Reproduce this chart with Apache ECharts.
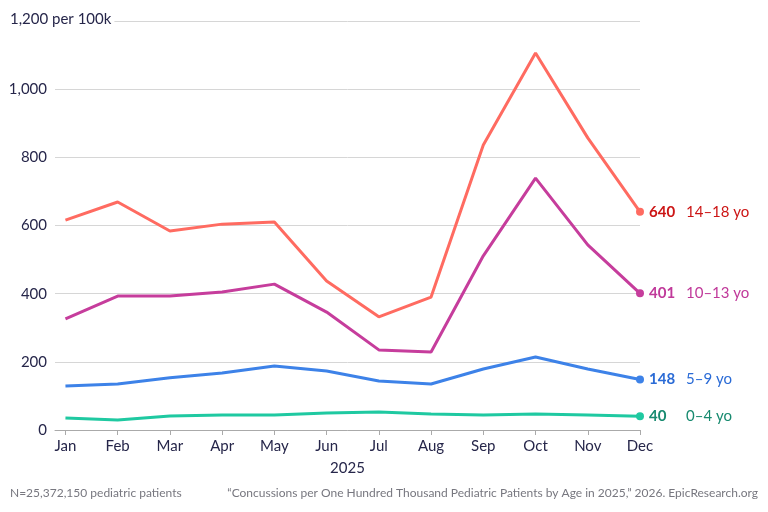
<!DOCTYPE html>
<html>
<head>
<meta charset="utf-8">
<script src="https://cdn.jsdelivr.net/npm/echarts@6/dist/echarts.min.js"></script>
<style>
  html, body { margin: 0; padding: 0; background: #fff; }
  #chart { width: 768px; height: 512px; }
</style>
</head>
<body>
<div id="chart"></div>
<script>
// data
var months = ['Jan', 'Feb', 'Mar', 'Apr', 'May', 'Jun', 'Jul', 'Aug', 'Sep', 'Oct', 'Nov', 'Dec'];
var age14to18 = [616, 669, 584, 604, 610, 437, 332, 390, 836, 1106, 857, 640];
var age10to13 = [326, 393, 393, 405, 428, 346, 235, 229, 511, 739, 543, 401];
var age5to9 = [129, 135, 153, 167, 188, 173, 144, 135, 179, 214, 179, 148];
var age0to4 = [35, 29, 41, 44, 44, 50, 53, 47, 44, 47, 44, 40];

var chart = echarts.init(document.getElementById('chart'));
var FONT = 'Lato, "Noto Sans", sans-serif';
var monthIdx = months.map(function (m, i) { return i; });

function pairs(arr) {
    return arr.map(function (v, i) { return [i, v]; });
}

function makeSeries(name, data, lineColor, labelColor) {
    return {
        name: name,
        type: 'line',
        data: pairs(data),
        showSymbol: true,
        symbol: 'circle',
        symbolSize: function (val, params) {
            return params.dataIndex === data.length - 1 ? 8 : 0;
        },
        itemStyle: { color: lineColor },
        lineStyle: { color: lineColor, width: 3 },
        emphasis: { disabled: true },
        endLabel: {
            show: true,
            distance: 9,
            formatter: function () {
                return '{v|' + data[data.length - 1] + '}{n|' + name + '}';
            },
            rich: {
                v: { fontFamily: FONT, fontSize: 15, fontWeight: 'bold', color: labelColor, width: 37 },
                n: { fontFamily: FONT, fontSize: 15, color: labelColor }
            }
        }
    };
}

var option = {
    animation: false,
    backgroundColor: '#fff',
    textStyle: { fontFamily: FONT },
    grid: { left: 55, right: 128, top: 21, bottom: 82 },
    xAxis: {
        type: 'value',
        min: -0.2,
        max: 11,
        name: '2025',
        nameLocation: 'middle',
        nameGap: 31,
        nameTextStyle: { fontFamily: FONT, fontSize: 15, color: '#26264a' },
        axisLine: { show: true, lineStyle: { color: '#aaaaaa', width: 1 } },
        axisTick: { show: true, length: 5, lineStyle: { color: '#aaaaaa' }, customValues: monthIdx },
        axisLabel: {
            customValues: monthIdx,
            formatter: function (v) { return months[Math.round(v)]; },
            fontFamily: FONT, fontSize: 15, color: '#26264a', margin: 9
        },
        splitLine: { show: false }
    },
    yAxis: {
        type: 'value',
        min: 0,
        max: 1200,
        interval: 200,
        axisLine: { show: false },
        axisTick: { show: false },
        axisLabel: {
            margin: 8,
            fontFamily: FONT, fontSize: 15, color: '#26264a',
            formatter: function (v) {
                if (v === 1200) return '';
                return v.toLocaleString('en-US');
            }
        },
        splitLine: { lineStyle: { color: '#d6d6d6', width: 1 } }
    },
    graphic: [
        {
            type: 'text', left: 10, top: 12, z: 100,
            style: {
                text: '1,200 per 100k', fontFamily: FONT, fontSize: 15, fill: '#26264a',
                backgroundColor: '#fff', padding: [0, 3, 0, 0]
            }
        },
        {
            type: 'text', left: 10, top: 487,
            style: { text: 'N=25,372,150 pediatric patients', fontFamily: FONT, fontSize: 12, fill: '#77777f' }
        },
        {
            type: 'text', right: 10, top: 487,
            style: {
                text: '\u201CConcussions per One Hundred Thousand Pediatric Patients by Age in 2025,\u201D 2026. EpicResearch.org',
                fontFamily: FONT, fontSize: 12, fill: '#77777f'
            }
        }
    ],
    series: [
        makeSeries('0\u20134 yo', age0to4, '#1fc9a1', '#178a6f'),
        makeSeries('5\u20139 yo', age5to9, '#3d82e8', '#2a6bd6'),
        makeSeries('10\u201313 yo', age10to13, '#c63d9c', '#c0399a'),
        makeSeries('14\u201318 yo', age14to18, '#ff6b61', '#cc1515')
    ]
};

chart.setOption(option);
</script>
</body>
</html>
